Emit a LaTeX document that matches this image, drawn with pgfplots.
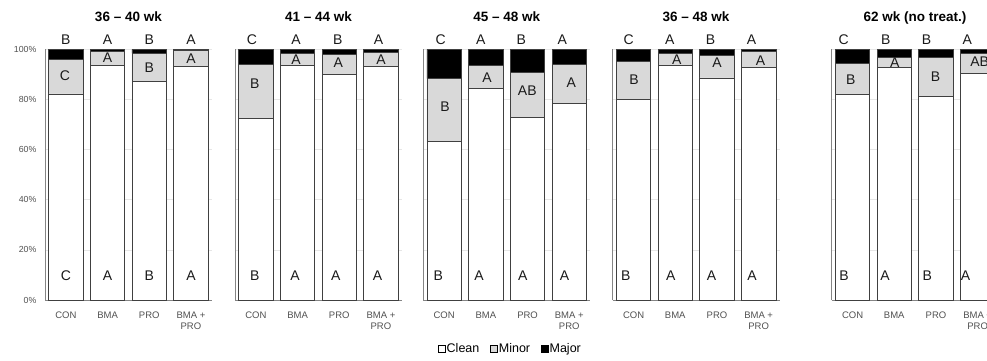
\documentclass[border=0pt]{standalone}
\usepackage{pgfplots}
\pgfplotsset{compat=1.18}
\usepackage{fontspec}
\setmainfont{Liberation Sans}
\definecolor{minorgray}{HTML}{D9D9D9}
\definecolor{barline}{HTML}{404040}
\definecolor{axline}{HTML}{858585}
\definecolor{gridc}{HTML}{E6E6E6}
\definecolor{ticklab}{HTML}{505050}
\definecolor{lettc}{HTML}{1A1A1A}
\pgfplotsset{
  panel/.style={
    scale only axis, width=166.8pt, height=250.7pt, anchor=south west,
    ymin=0, ymax=100, xmin=-0.5, xmax=3.5,
    ybar stacked, bar width=34.5pt,
    axis lines*=left,
    axis line style={draw=axline, line width=0.9pt},
    ymajorgrids, grid style={draw=gridc, line width=0.7pt},
    ytick={0,20,40,60,80,100},
    yticklabels={,,,,,},
    xtick={0,1,2,3},
    xticklabels={CON,BMA,PRO,{BMA +\\PRO}},
    xticklabel style={align=center, font=\fontsize{9.5}{11}\selectfont, text=ticklab, yshift=-8pt},
    yticklabel style={font=\fontsize{8.8}{10}\selectfont, text=ticklab, xshift=-5pt},
    major tick length=0pt,
    clip=false,
    title style={font=\bfseries\fontsize{13.5}{15}\selectfont, at={(0.5,1)}, anchor=base, yshift=22pt},
    every axis plot/.append style={draw=barline, line width=0.7pt},
    legend image code/.code={\draw[#1,draw=black,line width=0.5pt] (0pt,-3.5pt) rectangle (7pt,3.5pt);},
  },
}
\tikzset{lt/.style={font=\fontsize{14}{16}\selectfont, text=lettc, anchor=center, inner sep=0pt}}
\newcommand{\LT}[4]{\node[lt,xshift=#3pt] at (axis cs:#1,#2) {#4};}
\begin{document}
\begin{tikzpicture}
\useasboundingbox (0pt,0pt) rectangle (987pt,361pt);
\clip (0pt,0pt) rectangle (987pt,361pt);
% ---------- panel 1
\begin{axis}[panel, at={(45pt,61pt)}, title={36 -- 40 wk},
  yticklabels={0\%,20\%,40\%,60\%,80\%,100\%},
  after end axis/.code={%
\LT{0}{103.7}{0}{B}\LT{1}{103.7}{0}{A}\LT{2}{103.7}{0}{B}\LT{3}{103.7}{0}{A}
\LT{0}{89.3}{-1}{C}\LT{1}{96.6}{0}{A}\LT{2}{92.7}{0}{B}\LT{3}{96.4}{0}{A}
\LT{0}{9.6}{0}{C}\LT{1}{9.6}{0}{A}\LT{2}{9.6}{0}{B}\LT{3}{9.6}{0}{A}}]
\addplot[fill=white] coordinates {(0,82.2) (1,93.6) (2,87.1) (3,93.2)};
\addplot[fill=minorgray] coordinates {(0,13.9) (1,5.7) (2,11.3) (3,6.5)};
\addplot[fill=black] coordinates {(0,3.9) (1,0.7) (2,1.6) (3,0.3)};
\end{axis}
% ---------- panel 2
\begin{axis}[panel, at={(235pt,61pt)}, title={41 -- 44 wk},
  after end axis/.code={%
\LT{0}{103.7}{-4}{C}\LT{1}{103.7}{-1.5}{A}\LT{2}{103.7}{-1.5}{B}\LT{3}{103.7}{-2.5}{A}
\LT{0}{86.4}{-1}{B}\LT{1}{95.7}{-1.5}{A}\LT{2}{94.8}{-1}{A}\LT{3}{96.0}{0}{A}
\LT{0}{9.6}{-1}{B}\LT{1}{9.6}{-2.5}{A}\LT{2}{9.6}{-3.5}{A}\LT{3}{9.6}{-3.5}{A}}]
\addplot[fill=white] coordinates {(0,72.5) (1,93.6) (2,89.9) (3,93.1)};
\addplot[fill=minorgray] coordinates {(0,21.5) (1,4.8) (2,8.1) (3,5.7)};
\addplot[fill=black] coordinates {(0,6.0) (1,1.6) (2,2.0) (3,1.2)};
\end{axis}
% ---------- panel 3
\begin{axis}[panel, at={(423.3pt,61pt)}, title={45 -- 48 wk},
  legend entries={Clean,Minor,Major},
  legend style={at={(0.52,-0.195)}, anchor=center, draw=none, fill=none,
    legend columns=3, font=\fontsize{12.5}{14}\selectfont, inner sep=0pt,
    nodes={inner sep=1.5pt},
    /tikz/every odd column/.append style={column sep=0pt},
    /tikz/every even column/.append style={column sep=9pt}},
  legend cell align=left,
  after end axis/.code={%
\LT{0}{103.7}{-3.5}{C}\LT{1}{103.7}{-5}{A}\LT{2}{103.7}{-6.3}{B}\LT{3}{103.7}{-7}{A}
\LT{0}{77.1}{0.8}{B}\LT{1}{88.8}{1.3}{A}\LT{2}{83.4}{-0.3}{AB}\LT{3}{86.8}{2}{A}
\LT{0}{9.6}{-5.8}{B}\LT{1}{9.6}{-6.7}{A}\LT{2}{9.6}{-4.7}{A}\LT{3}{9.6}{-4.7}{A}}]
\addplot[fill=white] coordinates {(0,63.1) (1,84.4) (2,72.9) (3,78.5)};
\addplot[fill=minorgray] coordinates {(0,25.2) (1,9.2) (2,18.0) (3,15.4)};
\addplot[fill=black] coordinates {(0,11.7) (1,6.4) (2,9.1) (3,6.1)};
\end{axis}
% ---------- panel 4
\begin{axis}[panel, at={(612.7pt,61pt)}, title={36 -- 48 wk},
  after end axis/.code={%
\LT{0}{103.7}{-5}{C}\LT{1}{103.7}{-5.5}{A}\LT{2}{103.7}{-6.5}{B}\LT{3}{103.7}{-7.2}{A}
\LT{0}{88.0}{0.5}{B}\LT{1}{96.0}{1.5}{A}\LT{2}{94.7}{0.2}{A}\LT{3}{95.5}{1.8}{A}
\LT{0}{9.6}{-7.8}{B}\LT{1}{9.6}{-4.5}{A}\LT{2}{9.6}{-5.5}{A}\LT{3}{9.6}{-6.5}{A}}]
\addplot[fill=white] coordinates {(0,79.9) (1,93.6) (2,88.6) (3,92.6)};
\addplot[fill=minorgray] coordinates {(0,15.3) (1,4.9) (2,8.9) (3,6.5)};
\addplot[fill=black] coordinates {(0,4.8) (1,1.5) (2,2.5) (3,0.9)};
\end{axis}
% ---------- panel 5
\begin{axis}[panel, at={(831.7pt,61pt)}, title={62 wk (no treat.)},
  after end axis/.code={%
\LT{0}{103.7}{-9}{C}\LT{1}{103.7}{-8.5}{B}\LT{2}{103.7}{-9.3}{B}\LT{3}{103.7}{-10.3}{A}
\LT{0}{87.8}{-1.7}{B}\LT{1}{94.7}{0.5}{A}\LT{2}{89.1}{-0.3}{B}\LT{3}{95.1}{2}{AB}
\LT{0}{9.6}{-8.4}{B}\LT{1}{9.6}{-9.2}{A}\LT{2}{9.6}{-8.6}{B}\LT{3}{9.6}{-12}{A}}]
\addplot[fill=white] coordinates {(0,81.9) (1,92.6) (2,81.1) (3,90.3)};
\addplot[fill=minorgray] coordinates {(0,12.4) (1,4.2) (2,15.7) (3,8.1)};
\addplot[fill=black] coordinates {(0,5.7) (1,3.2) (2,3.2) (3,1.6)};
\end{axis}
\end{tikzpicture}
\end{document}
